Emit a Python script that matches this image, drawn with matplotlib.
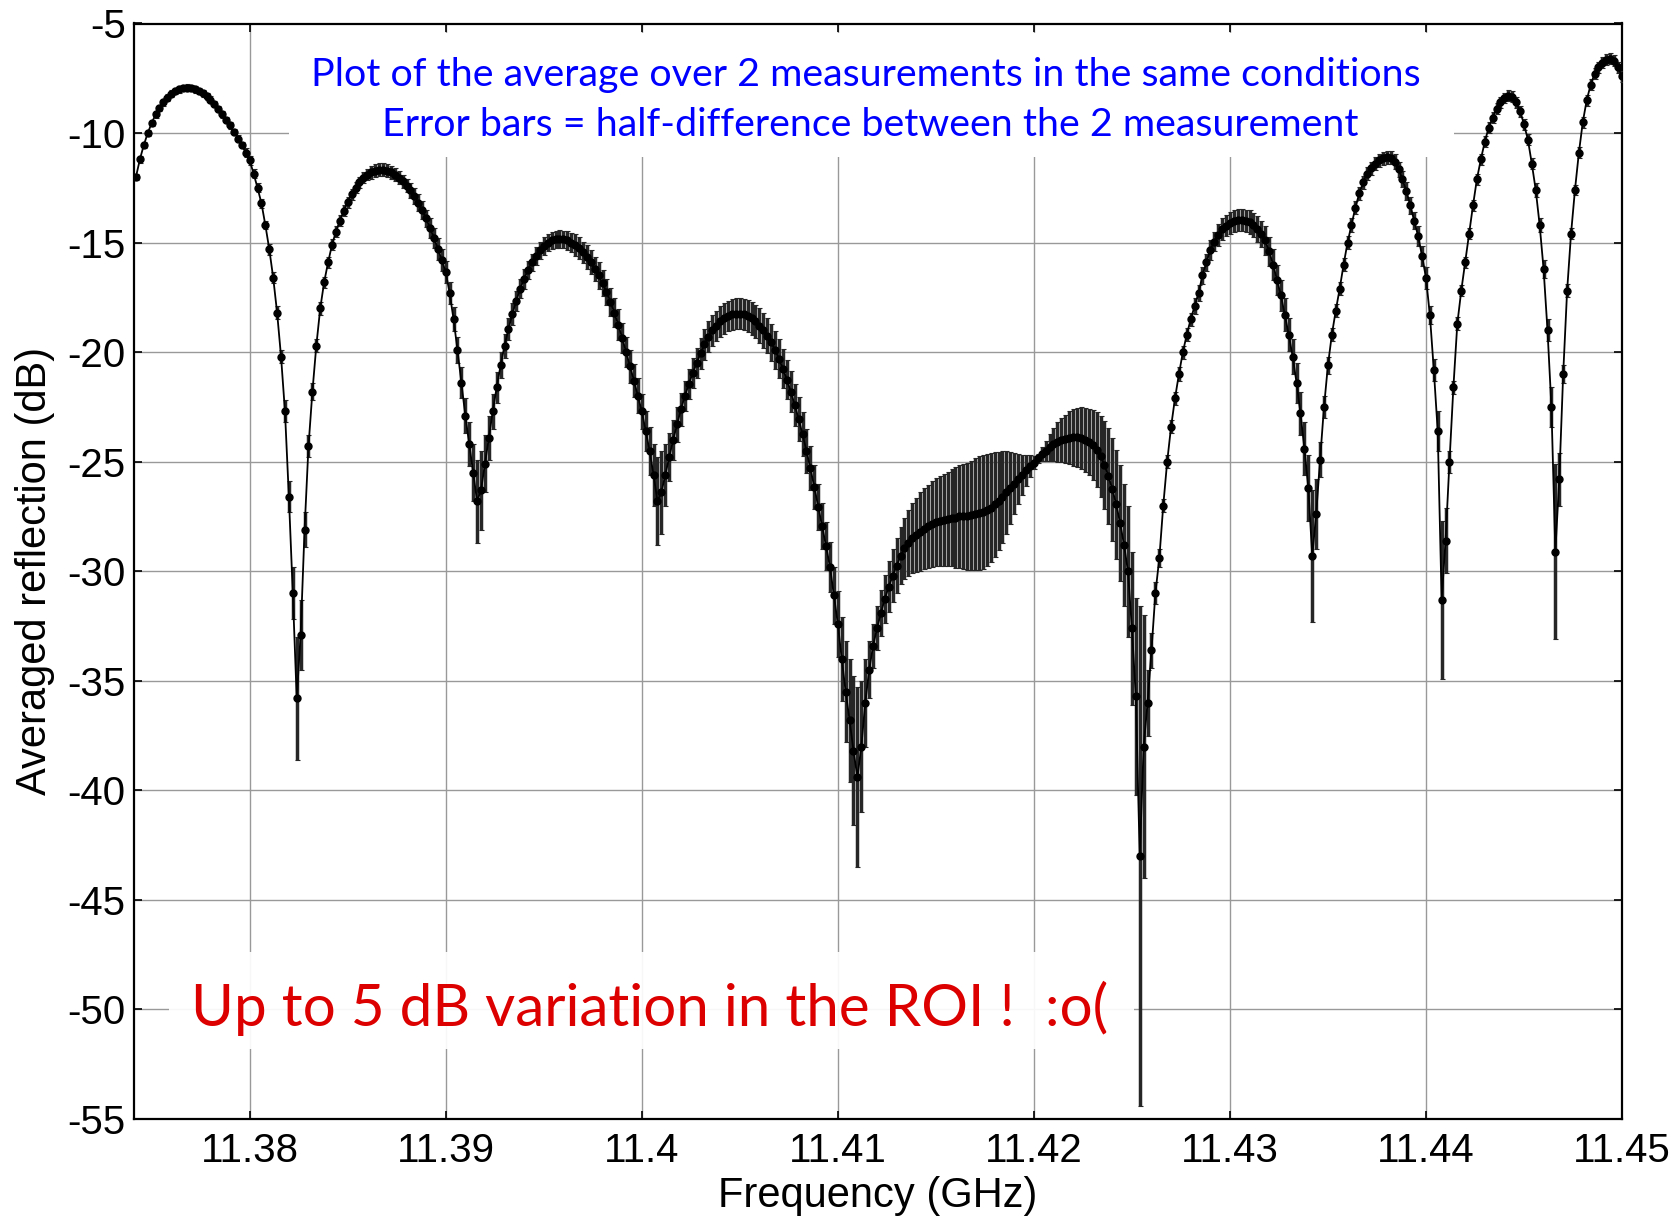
import numpy as np
import matplotlib
matplotlib.use('Agg')
import matplotlib.pyplot as plt
from matplotlib.patches import Rectangle
from matplotlib.ticker import FuncFormatter

# frequency sweep (GHz): start and step of the measurement grid
f_start = 11.3742
f_step = 0.0002

# averaged reflection (dB), one value per sweep point
refl_db = [
    -12.0, -11.2, -10.55, -10.0, -9.55, -9.15, -8.85, -8.6, -8.38, -8.2,
    -8.08, -8.0, -7.95, -7.93, -7.95, -8.0, -8.08, -8.19, -8.32, -8.48,
    -8.68, -8.9, -9.15, -9.4, -9.65, -9.95, -10.25, -10.55, -10.9, -11.25,
    -11.85, -12.5, -13.2, -14.2, -15.3, -16.6, -18.2, -20.2, -22.7, -26.6,
    -31.0, -35.8, -32.9, -28.1, -24.3, -21.8, -19.7, -18.0, -16.8, -15.9,
    -15.1, -14.5, -14.0, -13.55, -13.15, -12.8, -12.5, -12.25, -12.05, -11.9,
    -11.8, -11.72, -11.68, -11.68, -11.72, -11.8, -11.9, -12.03, -12.2, -12.4,
    -12.62, -12.88, -13.18, -13.52, -13.9, -14.32, -14.78, -15.28, -15.8, -16.35,
    -17.3, -18.5, -19.9, -21.4, -22.9, -24.2, -25.5, -26.8, -26.3, -25.1,
    -23.9, -22.7, -21.6, -20.6, -19.7, -18.95, -18.25, -17.65, -17.1, -16.65,
    -16.25, -15.9, -15.6, -15.35, -15.15, -15.0, -14.9, -14.85, -14.83, -14.85,
    -14.9, -15.0, -15.1, -15.25, -15.45, -15.65, -15.9, -16.2, -16.5, -16.85,
    -17.25, -17.7, -18.2, -18.75, -19.35, -20.0, -20.65, -21.3, -22.0, -22.7,
    -23.6, -24.5, -25.6, -26.8, -26.4, -25.6, -24.8, -24.0, -23.3, -22.6,
    -22.0, -21.45, -20.95, -20.5, -20.05, -19.65, -19.3, -19.0, -18.8, -18.6,
    -18.45, -18.35, -18.28, -18.25, -18.25, -18.28, -18.35, -18.45, -18.6, -18.8,
    -19.0, -19.25, -19.55, -19.9, -20.3, -20.75, -21.25, -21.8, -22.4, -23.05,
    -23.75, -24.5, -25.3, -26.15, -27.05, -27.95, -28.85, -29.8, -31.1, -32.4,
    -34.0, -35.5, -36.8, -38.2, -39.4, -38.0, -36.0, -34.5, -33.4, -32.6,
    -31.9, -31.25, -30.7, -30.2, -29.75, -29.3, -28.95, -28.7, -28.5, -28.35,
    -28.2, -28.05, -27.95, -27.85, -27.75, -27.7, -27.65, -27.6, -27.55, -27.55,
    -27.5, -27.5, -27.5, -27.45, -27.4, -27.35, -27.3, -27.2, -27.1, -26.95,
    -26.8, -26.6, -26.4, -26.2, -26.0, -25.8, -25.6, -25.4, -25.2, -25.05,
    -24.85, -24.65, -24.5, -24.35, -24.2, -24.1, -24.0, -23.95, -23.9, -23.88,
    -23.88, -23.92, -24.0, -24.1, -24.25, -24.45, -24.75, -25.15, -25.65, -26.25,
    -26.95, -27.8, -28.8, -30.0, -32.6, -35.7, -43.0, -38.0, -36.0, -33.6,
    -31.0, -29.4, -27.0, -25.0, -23.4, -22.1, -21.0, -20.0, -19.2, -18.5,
    -17.9, -17.3, -16.5, -15.9, -15.35, -14.95, -14.65, -14.4, -14.22, -14.1,
    -14.03, -13.98, -13.97, -14.0, -14.08, -14.2, -14.38, -14.6, -14.9, -15.4,
    -16.0, -16.7, -17.4, -18.3, -19.2, -20.2, -21.4, -22.8, -24.4, -26.2,
    -29.3, -27.4, -24.9, -22.5, -20.6, -19.2, -18.1, -17.1, -16.0, -15.0,
    -14.2, -13.4, -12.75, -12.25, -11.85, -11.6, -11.4, -11.25, -11.15, -11.1,
    -11.12, -11.3, -11.65, -12.1, -12.65, -13.3, -14.0, -14.7, -15.6, -16.6,
    -18.3, -20.8, -23.6, -31.3, -28.6, -25.0, -21.6, -18.7, -17.2, -15.9,
    -14.6, -13.3, -12.1, -11.2, -10.4, -9.75, -9.3, -8.9, -8.6, -8.4,
    -8.3, -8.35, -8.6, -9.0, -9.6, -10.3, -11.4, -12.6, -14.2, -16.2,
    -19.0, -22.5, -29.1, -25.8, -21.0, -17.2, -14.6, -12.6, -10.9, -9.5,
    -8.5, -7.8, -7.3, -7.0, -6.8, -6.65, -6.6, -6.7, -7.0, -7.4,
]

# error bars = half-difference between the 2 measurements (dB)
half_diff = [
    0.15, 0.15, 0.15, 0.15, 0.15, 0.15, 0.15, 0.15, 0.15, 0.15,
    0.15, 0.15, 0.15, 0.15, 0.15, 0.15, 0.15, 0.15, 0.15, 0.15,
    0.15, 0.15, 0.15, 0.15, 0.15, 0.15, 0.15, 0.15, 0.2, 0.2,
    0.2, 0.2, 0.2, 0.2, 0.25, 0.25, 0.3, 0.3, 0.5, 0.7,
    1.2, 2.8, 1.6, 0.8, 0.5, 0.4, 0.3, 0.3, 0.25, 0.25,
    0.25, 0.25, 0.25, 0.25, 0.25, 0.25, 0.25, 0.25, 0.25, 0.25,
    0.3, 0.3, 0.3, 0.3, 0.3, 0.3, 0.3, 0.3, 0.3, 0.3,
    0.35, 0.35, 0.4, 0.4, 0.4, 0.45, 0.45, 0.5, 0.5, 0.5,
    0.5, 0.55, 0.6, 0.7, 0.8, 1.0, 1.3, 1.9, 1.8, 1.3,
    1.0, 0.8, 0.7, 0.6, 0.55, 0.5, 0.5, 0.45, 0.45, 0.45,
    0.4, 0.4, 0.4, 0.4, 0.4, 0.4, 0.4, 0.4, 0.4, 0.4,
    0.45, 0.45, 0.5, 0.5, 0.5, 0.55, 0.55, 0.55, 0.6, 0.6,
    0.6, 0.65, 0.65, 0.7, 0.7, 0.7, 0.75, 0.75, 0.8, 0.8,
    0.9, 1.1, 1.4, 2.0, 1.9, 1.4, 1.1, 0.9, 0.8, 0.75,
    0.7, 0.7, 0.7, 0.7, 0.7, 0.7, 0.7, 0.7, 0.7, 0.7,
    0.7, 0.7, 0.7, 0.7, 0.7, 0.7, 0.75, 0.75, 0.75, 0.8,
    0.8, 0.8, 0.85, 0.85, 0.9, 0.9, 0.9, 0.95, 0.95, 1.0,
    1.0, 1.0, 1.0, 1.0, 1.05, 1.05, 1.1, 1.15, 1.3, 1.5,
    1.9, 2.3, 2.8, 3.4, 4.1, 3.0, 2.0, 1.3, 1.0, 1.0,
    1.05, 1.1, 1.15, 1.2, 1.25, 1.3, 1.4, 1.5, 1.6, 1.7,
    1.8, 1.85, 1.9, 1.95, 2.0, 2.05, 2.1, 2.15, 2.2, 2.3,
    2.35, 2.4, 2.45, 2.5, 2.55, 2.6, 2.6, 2.55, 2.5, 2.4,
    2.25, 2.1, 1.9, 1.65, 1.4, 1.15, 0.9, 0.7, 0.5, 0.3,
    0.2, 0.3, 0.45, 0.6, 0.75, 0.9, 1.0, 1.1, 1.2, 1.3,
    1.35, 1.4, 1.45, 1.5, 1.6, 1.7, 1.85, 2.0, 2.2, 2.35,
    2.5, 2.65, 2.8, 3.0, 3.5, 4.5, 11.4, 6.0, 1.5, 0.8,
    0.5, 0.4, 0.3, 0.3, 0.3, 0.3, 0.3, 0.3, 0.3, 0.3,
    0.35, 0.35, 0.4, 0.4, 0.45, 0.45, 0.5, 0.5, 0.5, 0.5,
    0.5, 0.5, 0.5, 0.5, 0.55, 0.55, 0.6, 0.6, 0.65, 0.65,
    0.7, 0.7, 0.7, 0.75, 0.75, 0.8, 0.9, 1.0, 1.2, 1.5,
    3.0, 1.6, 0.8, 0.5, 0.4, 0.3, 0.3, 0.3, 0.3, 0.3,
    0.3, 0.3, 0.3, 0.3, 0.3, 0.3, 0.3, 0.3, 0.3, 0.3,
    0.3, 0.35, 0.35, 0.35, 0.4, 0.4, 0.4, 0.45, 0.45, 0.5,
    0.4, 0.5, 0.9, 3.6, 1.5, 0.5, 0.3, 0.3, 0.25, 0.25,
    0.25, 0.25, 0.25, 0.25, 0.25, 0.25, 0.25, 0.25, 0.25, 0.25,
    0.25, 0.25, 0.25, 0.25, 0.25, 0.25, 0.25, 0.3, 0.3, 0.4,
    0.5, 0.9, 4.0, 1.2, 0.4, 0.3, 0.25, 0.25, 0.25, 0.25,
    0.25, 0.25, 0.25, 0.25, 0.25, 0.25, 0.25, 0.25, 0.25, 0.25,
]

x_ticks = [11.38, 11.39, 11.40, 11.41, 11.42, 11.43, 11.44, 11.45]
y_ticks = [-55, -50, -45, -40, -35, -30, -25, -20, -15, -10, -5]

note_lines = 'Plot of the average over 2 measurements in the same conditions\n' \
             'Error bars = half-difference between the 2 measurement'
remark = 'Up to 5 dB variation in the ROI !  :o('

W, H = 1679, 1217
plt.rcParams['axes.unicode_minus'] = False
plt.rcParams['font.family'] = ['Liberation Sans', 'DejaVu Sans']

fig = plt.figure(figsize=(W / 100, H / 100), dpi=100)
# axes box in pixels: left 134, right 1622, top 23.5, bottom 1119
ax = fig.add_axes([134 / W, 1 - 1119 / H, (1622 - 134) / W, (1119 - 23.5) / H])

freq = f_start + f_step * np.arange(len(refl_db))

# dense error bars make the dark band, dots + thin line on top
ax.errorbar(freq, refl_db, yerr=half_diff, fmt='-o', color='k', ms=5, lw=1.3,
            ecolor='#262626', elinewidth=2.5, capsize=1.8, capthick=0.8, zorder=3)

ax.set_xlim(11.3741, 11.45)
ax.set_ylim(-55, -5)
ax.set_xticks(x_ticks)
ax.set_yticks(y_ticks)
ax.xaxis.set_major_formatter(FuncFormatter(lambda v, p: '%g' % round(v, 4)))
ax.yaxis.set_major_formatter(FuncFormatter(lambda v, p: '%g' % v))
ax.tick_params(direction='in', top=True, right=True, length=6, width=1.2,
               labelsize=29)
ax.tick_params(axis='x', pad=9)
ax.tick_params(axis='y', pad=6)
ax.set_axisbelow(True)
ax.grid(True, color='#999999', lw=1.0)
for s in ax.spines.values():
    s.set_linewidth(1.6)

fig.text(878 / W, 1 - 1207 / H, 'Frequency (GHz)', fontsize=30,
         ha='center', va='baseline')
fig.text(35 / W, 1 - 571 / H, 'Averaged reflection (dB)', fontsize=30,
         rotation=90, ha='center', va='center')

# white boxes behind the two annotations (they hide the grid)
ax.add_patch(Rectangle((289 / W, 1 - 157 / H), (1454 - 289) / W, (157 - 33) / H,
                       transform=fig.transFigure, facecolor='white',
                       edgecolor='none', zorder=1))
ax.add_patch(Rectangle((169 / W, 1 - 1049 / H), (1134 - 169) / W, (1049 - 952) / H,
                       transform=fig.transFigure, facecolor='white', alpha=0.93,
                       edgecolor='none', zorder=1))

renderer = fig.canvas.get_renderer()


def fit_width(t, width_px):
    bb = t.get_window_extent(renderer)
    t.set_fontsize(t.get_fontsize() * width_px / bb.width)


blue1, blue2 = note_lines.split('\n')
t1 = fig.text(866 / W, 1 - 86 / H, blue1, color='#0000ff', fontsize=24,
              family=['Lato', 'DejaVu Sans'], ha='center', va='baseline')
fit_width(t1, 1111)
t2 = fig.text(870 / W, 1 - 136 / H, blue2, color='#0000ff',
              fontsize=t1.get_fontsize(), family=['Lato', 'DejaVu Sans'],
              ha='center', va='baseline')

t3 = fig.text(191 / W, 1 - 1026 / H, remark, color='#dd0000', fontsize=40,
              family=['Lato', 'DejaVu Sans'], ha='left', va='baseline')
fit_width(t3, 916)

fig.savefig('out.png', dpi=100)
